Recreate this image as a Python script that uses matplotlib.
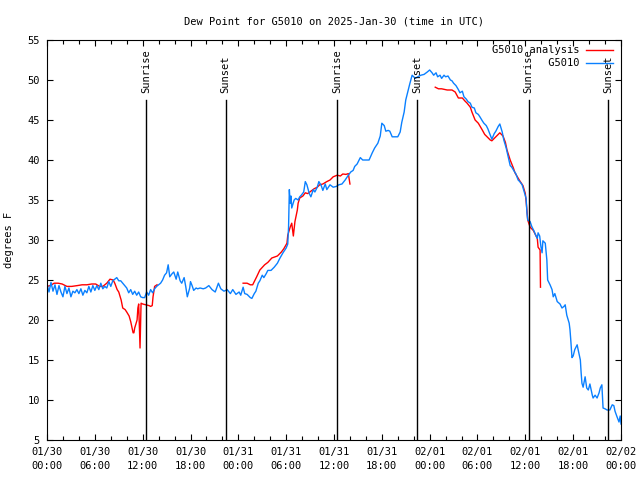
import numpy as np
import matplotlib.pyplot as plt
from matplotlib.ticker import MultipleLocator

# hours since 2025-01-30 00:00 UTC
blue_hours = [
    0.0, 0.25, 0.5, 0.75, 1.0, 1.25, 1.5, 1.75, 2.0, 2.25, 2.5, 2.75, 3.0, 3.25,
    3.5, 3.75, 4.0, 4.25, 4.5, 4.75, 5.0, 5.25, 5.5, 5.75, 6.0, 6.25, 6.5, 6.75,
    7.0, 7.25, 7.5, 7.75, 8.0, 8.25, 8.5, 8.75, 9.0, 9.25, 9.5, 9.75, 10.0, 10.25,
    10.5, 10.75, 11.0, 11.25, 11.5, 11.75, 12.0, 12.25, 12.5, 12.75, 13.0, 13.25,
    13.5, 13.75, 14.0, 14.25, 14.5, 14.75, 15.0, 15.2, 15.4, 15.7, 15.9, 16.2,
    16.4, 16.7, 16.9, 17.2, 17.4, 17.6, 17.9, 18.0, 18.2, 18.4, 18.7, 18.9, 19.2,
    19.6, 19.9, 20.3, 20.7, 21.1, 21.5, 21.8, 22.2, 22.6, 23.0, 23.3, 23.7, 24.1,
    24.3, 24.6, 24.8, 25.1, 25.5, 25.7, 26.0, 26.2, 26.5, 26.7, 27.0, 27.2, 27.5,
    27.7, 28.1, 28.5, 28.9, 29.2, 29.6, 30.0, 30.2, 30.3, 30.4, 30.5, 30.6, 30.7,
    31.0, 31.2, 31.5, 31.7, 31.9, 32.2, 32.4, 32.6, 32.9, 33.1, 33.4, 33.6, 33.9,
    34.1, 34.4, 34.6, 34.9, 35.1, 35.5, 35.9, 36.3, 36.6, 37.0, 37.4, 37.8, 38.1,
    38.4, 38.6, 38.9, 39.3, 39.6, 40.0, 40.4, 40.8, 41.1, 41.5, 41.8, 42.0, 42.3,
    42.5, 42.8, 43.0, 43.3, 43.7, 44.0, 44.3, 44.5, 44.8, 45.0, 45.3, 45.5, 45.8,
    46.2, 46.5, 46.9, 47.3, 47.7, 48.0, 48.3, 48.5, 48.8, 49.0, 49.3, 49.5, 49.8,
    50.0, 50.3, 50.6, 50.8, 51.0, 51.3, 51.6, 51.8, 52.1, 52.3, 52.6, 52.8, 53.1,
    53.3, 53.6, 53.8, 54.1, 54.3, 54.6, 54.8, 55.1, 55.3, 55.6, 55.8, 56.1, 56.3,
    56.6, 56.8, 57.1, 57.3, 57.6, 57.8, 58.1, 58.3, 58.6, 58.8, 59.1, 59.3, 59.6,
    59.8, 60.1, 60.2, 60.3, 60.6, 60.8, 61.1, 61.3, 61.5, 61.6, 61.8, 61.95, 62.1,
    62.2, 62.5, 62.7, 62.8, 63.1, 63.35, 63.5, 63.7, 64.0, 64.35, 64.6, 64.85,
    65.0, 65.2, 65.5, 65.6, 65.7, 65.85, 66.0, 66.2, 66.5, 66.6, 66.9, 67.0, 67.1,
    67.25, 67.5, 67.7, 67.9, 68.1, 68.4, 68.5, 68.75, 69.0, 69.25, 69.4, 69.6,
    69.75, 70.0, 70.25, 70.6, 70.9, 71.1, 71.25, 71.5, 71.75, 71.9, 72.0,
]
blue_dewpt = [
    24.5, 23.5, 24.7, 23.6, 24.4, 23.2, 24.3, 23.5, 22.9, 24.2, 23.3, 24.0, 22.9, 23.6,
    23.4, 23.8, 23.3, 23.9, 23.1, 23.7, 23.4, 24.2, 23.5, 24.3, 23.7, 24.3, 23.8, 24.6,
    23.9, 24.2, 24.0, 24.8, 24.2, 24.9, 25.1, 25.3, 24.9, 24.9, 24.6, 24.3, 24.0, 23.4,
    23.8, 23.2, 23.6, 23.1, 23.5, 22.9, 22.8, 22.8, 23.5, 23.1, 23.8, 23.4,
    23.9, 24.2, 24.4, 24.6, 25.0, 25.6, 25.9, 26.9, 25.4, 25.8, 26.0, 25.1,
    26.0, 24.9, 24.6, 25.3, 24.2, 22.9, 24.0, 24.8, 24.3, 23.7, 24.0, 23.9, 24.0,
    23.9, 24.0, 24.3, 23.8, 23.5, 24.6, 23.9, 23.6, 23.8, 23.3, 23.8, 23.2, 23.5,
    23.1, 24.1, 23.3, 23.2, 22.8, 22.7, 23.3, 23.6, 24.6, 24.9, 25.6, 25.3, 25.8,
    26.2, 26.2, 26.6, 27.1, 27.7, 28.4, 29.0, 29.5, 31.6, 36.3, 34.6, 35.5, 34.0,
    35.0, 35.2, 35.0, 35.4, 35.6, 36.0, 37.3, 36.9, 35.8, 35.4, 36.3, 36.0, 36.6,
    37.3, 36.8, 36.2, 37.0, 36.3, 36.9, 36.6, 36.7, 36.9, 37.0, 37.5, 38.1, 38.5,
    38.7, 39.2, 39.5, 40.3, 40.0, 40.0, 40.0, 40.9, 41.5, 42.1, 43.0, 44.6, 44.3,
    43.6, 43.7, 43.6, 42.9, 42.9, 42.9, 43.5, 44.7, 46.0, 47.5, 48.7, 49.5, 50.6,
    50.2, 50.4, 50.6, 50.7, 51.0, 51.25, 50.9, 50.6, 50.9, 50.4, 50.6, 50.2, 50.6,
    50.4, 50.5, 50.0, 49.9, 49.6, 49.3, 48.8, 48.4, 48.6, 47.9, 47.6, 47.3, 47.1,
    46.6, 46.5, 45.9, 45.7, 45.4, 44.9, 44.6, 44.3, 43.9, 43.1, 42.6, 43.3, 43.6,
    44.2, 44.5, 43.5, 42.5, 41.5, 40.6, 39.3, 39.1, 38.6, 38.3, 37.5, 37.3, 36.9,
    36.2, 35.2, 33.4, 32.5, 32.3, 31.7, 31.1, 30.6, 30.2, 30.9, 30.5, 29.2, 28.4,
    29.9, 29.6, 27.5, 25.0, 24.4, 23.8, 22.9, 23.3, 22.3, 22.0, 21.5, 21.7,
    21.9, 20.6, 19.6, 18.8, 17.5, 15.3, 15.5, 16.3, 16.9, 16.4, 15.0, 13.4, 12.1,
    11.6, 12.9, 11.5, 11.25, 12.0, 10.6, 10.25, 10.6, 10.25, 10.9, 11.5, 11.9,
    9.0, 8.9, 8.75, 8.75, 9.4, 9.3, 8.6, 7.9, 7.25, 8.0, 7.0,
]

nan = np.nan
red_hours = [
    0.0, 0.4, 0.9, 1.4, 1.9, 2.5, 3.1, 3.8, 4.4, 5.0, 5.6, 6.1, 6.6, 7.0, 7.5,
    7.9, 8.3, 8.5, 8.8, 9.0, 9.3, 9.5, 9.8, 10.0, 10.3, 10.5, 10.8, 10.9, 11.0,
    11.3, 11.4, 11.5, 11.67, 11.8, 12.0, 12.4, 12.8, 13.0, 13.2, 13.3, 13.5, 13.8,
    19.0,
    24.6, 25.1, 25.5, 25.8, 26.3, 26.7, 27.3, 27.7, 28.2, 28.9, 29.4, 29.7, 30.1,
    30.2, 30.5, 30.7, 30.9, 31.1, 31.4, 31.5, 31.7, 32.1, 32.4, 32.7, 33.1, 33.5,
    33.9, 34.2, 34.6, 35.1, 35.5, 35.9, 36.4, 36.8, 37.1, 37.5, 37.8, 38.0,
    43.0,
    48.7, 49.1, 49.5, 50.2, 50.8, 51.2, 51.6, 52.1, 52.4, 52.7, 53.1, 53.3, 53.7,
    54.1, 54.6, 54.9, 55.2, 55.6, 55.8, 56.2, 56.6, 56.8, 57.2, 57.5, 57.7, 58.1,
    58.5, 58.7, 59.0, 59.3, 59.7, 60.0, 60.2, 60.3, 60.6, 61.0, 61.2, 61.5, 61.6,
    61.85, 61.9,
]
red_dewpt = [
    24.2, 24.3, 24.6, 24.6, 24.5, 24.2, 24.2, 24.3, 24.4, 24.4, 24.5, 24.5, 24.2, 24.2, 24.6,
    25.1, 25.0, 24.6, 23.8, 23.5, 22.5, 21.5, 21.3, 21.0, 20.5, 19.8, 18.4, 18.4, 19.0,
    20.0, 21.5, 22.0, 16.5, 22.1, 22.0, 21.9, 21.8, 21.7, 21.8, 22.9, 24.2, 24.4,
    nan,
    24.6, 24.6, 24.4, 24.4, 25.4, 26.25, 26.9, 27.2, 27.75, 28.0, 28.5, 28.9, 29.6,
    30.6, 31.6, 32.1, 30.5, 32.3, 33.75, 34.6, 35.25, 35.5, 35.9, 35.8, 36.1, 36.4,
    36.6, 36.9, 37.0, 37.3, 37.5, 37.9, 38.1, 38.0, 38.25, 38.2, 38.3, 37.0,
    nan,
    49.1, 48.9, 48.9, 48.75, 48.75, 48.5, 47.75, 47.75, 47.4, 47.1, 46.6, 46.0, 45.0,
    44.6, 43.75, 43.2, 42.9, 42.5, 42.4, 42.8, 43.2, 43.4, 43.0, 42.2, 41.25, 40.0,
    39.0, 38.4, 37.9, 37.4, 36.8, 35.8, 33.75, 32.5, 31.6, 31.2, 30.8, 30.2, 29.1,
    28.75, 24.1,
]

sun_hours = [12.4, 22.4, 36.4, 46.45, 60.4, 70.4]
sun_labels = ["Sunrise", "Sunset", "Sunrise", "Sunset", "Sunrise", "Sunset"]

tick_hours = list(range(0, 73, 6))
tick_labels = [
    "01/30\n00:00", "01/30\n06:00", "01/30\n12:00", "01/30\n18:00",
    "01/31\n00:00", "01/31\n06:00", "01/31\n12:00", "01/31\n18:00",
    "02/01\n00:00", "02/01\n06:00", "02/01\n12:00", "02/01\n18:00",
    "02/02\n00:00",
]

plt.rcParams['font.family'] = 'DejaVu Sans Mono'
plt.rcParams['font.size'] = 7.5

fig = plt.figure(figsize=(6.4, 4.8), dpi=100)
ax = fig.add_axes([47 / 640, 40 / 480, 574 / 640, 400 / 480])

ax.plot(red_hours, red_dewpt, color='#ff0000', lw=1.0, label='G5010 analysis')
ax.plot(blue_hours, blue_dewpt, color='#0a80ff', lw=1.0, label='         G5010')

for h, lab in zip(sun_hours, sun_labels):
    ax.plot([h, h], [5, 47.5], color='black', lw=1.0)
    ax.text(h, 48.4, lab, rotation=90, ha='center', va='bottom', fontsize=7.5)

ax.set_xlim(0, 72)
ax.set_ylim(5, 55)
ax.set_xticks(tick_hours)
ax.set_xticklabels(tick_labels, linespacing=1.5)
ax.xaxis.set_minor_locator(MultipleLocator(2))
ax.set_yticks(range(5, 56, 5))
ax.tick_params(which='both', direction='in', top=True, right=True, width=0.8)
ax.tick_params(which='major', length=4.5, pad=5)
ax.tick_params(which='minor', length=3)
for s in ax.spines.values():
    s.set_linewidth(0.8)

ax.set_ylabel('degrees F', labelpad=10)
ax.set_title('Dew Point for G5010 on 2025-Jan-30 (time in UTC)', fontsize=7.5, pad=11)

ax.legend(loc='upper right', bbox_to_anchor=(0.995, 1.0), frameon=False,
          markerfirst=False, handlelength=2.6, handletextpad=0.6,
          labelspacing=0.3, borderaxespad=0.1, fontsize=7.5)

fig.savefig('out.png', dpi=100)
